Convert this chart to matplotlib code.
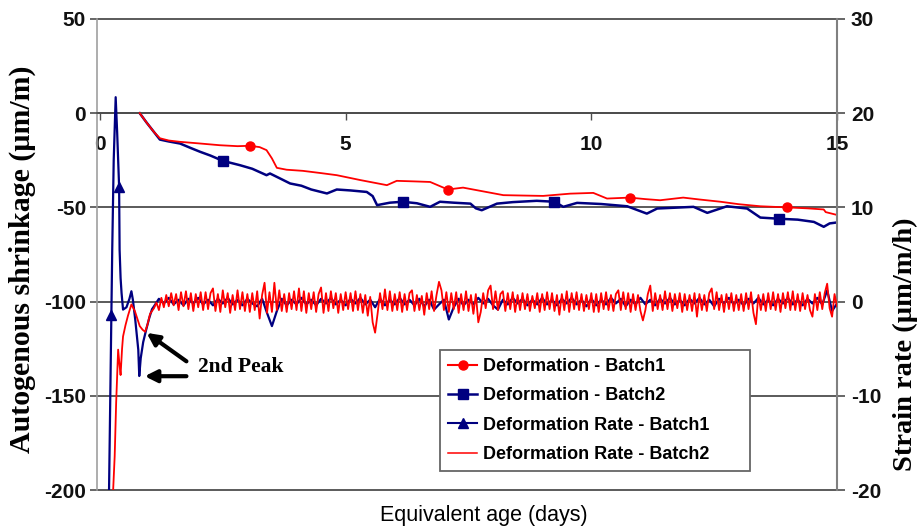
import numpy as np
import matplotlib
matplotlib.use("Agg")
import matplotlib.pyplot as plt
from matplotlib.lines import Line2D

plt.rcParams["axes.unicode_minus"] = False

# ---------------- data ----------------
# Deformation (left axis, um/m)
def1_x = [0.81, 0.95, 1.10, 1.22, 1.40, 1.63, 2.00, 2.44, 2.80, 3.05, 3.25, 3.39, 3.50, 3.60,
          3.80, 4.13, 4.50, 4.82, 5.30, 5.84, 6.04, 6.40, 6.72, 6.90, 7.08, 7.39, 7.80, 8.21,
          8.60, 9.02, 9.57, 10.04, 10.32, 10.78, 11.10, 11.40, 11.87, 12.20, 12.63, 13.00,
          13.44, 13.99, 14.40, 14.73, 14.77, 15.00]
def1_y = [0, -5, -10, -13.3, -14.5, -15.2, -16.0, -17.0, -17.5, -17.3, -18.0, -19.6, -24, -29,
          -30, -30.6, -31.8, -32.9, -35.5, -38.2, -35.9, -36.2, -36.5, -38.5, -40.5, -39.5,
          -41.5, -43.5, -43.7, -43.9, -42.7, -42.3, -45.3, -44.8, -45.6, -46.2, -44.8, -45.8,
          -47.0, -48.3, -49.4, -50.0, -50.5, -51.1, -52.5, -54.0]
def1_marks = [9, 24, 33, 41]

def2_x = [0.81, 0.95, 1.10, 1.22, 1.40, 1.63, 1.85, 2.04, 2.25, 2.50, 2.85, 3.10, 3.39, 3.46,
          3.67, 3.87, 4.10, 4.30, 4.62, 4.82, 5.10, 5.43, 5.55, 5.64, 5.90, 6.16, 6.45, 6.72,
          6.92, 7.20, 7.54, 7.65, 7.77, 8.08, 8.40, 8.89, 9.25, 9.43, 9.71, 10.20, 10.73,
          11.13, 11.34, 12.08, 12.36, 12.76, 13.17, 13.44, 13.81, 14.20, 14.53, 14.73, 14.85,
          15.00]
def2_y = [0, -5, -10, -14, -15, -16.1, -18.5, -20.5, -22.5, -25.3, -27.6, -29.5, -32.9, -32.0,
          -34.7, -37.3, -38.5, -40.5, -42.6, -40.5, -41.0, -41.8, -44, -48.8, -47.5, -47.0,
          -47.8, -49.7, -47.0, -47.5, -48.0, -50.5, -51.5, -48.0, -47.2, -46.5, -47.0, -49.7,
          -47.6, -48.2, -49.4, -53.3, -50.6, -49.7, -52.9, -49.4, -50.6, -55.4, -56.0, -56.5,
          -57.7, -60.3, -58.5, -58.0]
def2_marks = [9, 25, 36, 48]

# Deformation rate Batch1 (right axis, um/m/h): early transient + readings every 0.1 day
rate1_early_x = [0.18, 0.21, 0.23, 0.25, 0.28, 0.32, 0.35, 0.39, 0.40, 0.42, 0.44, 0.47, 0.54,
                 0.60, 0.64, 0.67, 0.72, 0.78, 0.80, 0.83, 0.88, 0.94, 1.00, 1.06]
rate1_early_y = [-22, -10, -1.4, 5.5, 15, 21.7, 18, 12.2, 5.5, 2.5, 0.9, -0.85, -0.6, 0.3, 1.1,
                 0.2, -2.0, -5.1, -7.9, -6.0, -4.3, -3.0, -1.8, -0.8]
rate1_marks = [2, 7]
rate1_start, rate1_step = 1.1, 0.1
rate1_vals = [
    -0.5, 0.3, -0.2, 0.4, -0.3, 0.2, -0.4, 0.3, -0.2, 0.4,
    -0.3, 0.2, -0.4, 0.3, -0.2, 0.4, -0.3, 0.2, -0.4, 0.3,
    -0.2, -0.5, 0.3, -1.2, -2.6, -1.0, 0.3, -0.4, 0.2, -0.3,
    0.4, -0.3, 0.2, -0.4, 0.3, -0.2, 0.4, -0.3, 0.2, -0.4,
    0.3, -0.2, 0.4, -0.3, 0.2, -0.6, 0.3, -0.4, 0.2, -0.3,
    0.4, -0.3, 0.2, -0.4, 0.3, -0.5, 0.2, -0.85, -0.3, 0.2,
    -1.9, -0.6, 0.3, -0.4, 0.2, -0.3, 0.4, -0.2, 0.3, -0.4,
    -0.85, 0.2, -0.3, 0.4, -0.2, 0.3, -0.4, 0.2, -0.3, 0.4,
    -0.3, 0.2, -0.4, 0.3, -0.2, 0.4, -0.3, 0.2, -0.5, 0.3,
    -0.4, 0.2, -0.3, 0.4, -0.2, 0.3, -0.5, 0.2, -0.3, 0.4,
    -0.3, 0.2, -0.4, 0.3, -0.2, 0.4, -0.3, 0.2, -0.4, 0.3,
    -0.2, 0.4, -0.3, 0.2, -0.5, 0.3, -0.2, 0.4, -0.3, 0.2,
    -0.4, 0.3, -0.2, 0.4, -0.3, 0.2, -0.4, 0.3, -0.2, 0.4,
    -0.3, 0.2, -0.4, 0.3, -0.2, 0.4, -0.3, 1.2, -1.0, -0.2]

# Deformation rate Batch2 (right axis): early transient + readings every 0.05 day
rate2_early_x = [0.26, 0.30, 0.33, 0.35, 0.37, 0.40, 0.42, 0.45, 0.47, 0.52, 0.57, 0.64, 0.71,
                 0.76, 0.81, 0.87, 0.92, 0.97, 1.02]
rate2_early_y = [-21, -16.4, -10.7, -8.0, -5.1, -6.8, -7.8, -5.0, -3.7, -2.5, -1.5, -0.3, -1.0,
                 -1.8, -2.6, -3.0, -3.2, -2.4, -1.3]
rate2_start, rate2_step = 1.1, 0.05
rate2_vals = [
    -0.7, -0.1, -0.9, 0.4, -0.6, 0.7, -0.5, 0.9, -0.4, 0.8, -0.9, 1.0, -0.5, 1.1, -0.8, 0.9, -1.0, 0.8, -0.6, 1.0,
    -0.9, 1.0, -0.8, 0.9, 1.4, -1.0, 0.8, -1.1, 1.2, -0.6, 0.9, -1.2, 0.7, -0.9, 1.2, -0.8, 1.0, -1.0, 0.8, -1.1,
    0.9, -0.9, 1.1, -1.8, 0.7, 2.0, -1.2, 1.0, -1.1, 2.0, -0.9, 1.2, -1.0, 0.8, -1.1, 0.9, -0.8, 1.1, -0.9, 1.4,
    -1.0, 1.1, -1.2, 0.9, -0.8, 1.0, -1.1, 0.8, 1.5, -1.2, 0.9, -1.0, 1.1, -0.7, 0.9, -1.2, 0.8, -0.9, 1.0, -0.8,
    0.9, -1.0, 1.1, -0.9, 0.8, -1.2, 0.7, -1.5, 0.5, -2.2, -3.3, -1.3, 0.9, -0.8, 1.3, -0.9, 1.1, -1.0, 0.8, -0.9,
    1.0, -1.1, 0.8, -0.9, 0.9, 1.2, -1.0, 0.7, -0.9, 0.6, -1.4, 0.9, -0.8, 1.1, -1.0, 0.7, 2.1, 1.2, -0.9, 1.0,
    -1.1, 0.9, -0.8, 1.0, -1.2, 0.8, -0.9, 1.1, -1.0, 0.7, -1.3, 0.8, -2.2, -1.1, 0.9, -0.7, 1.2, 1.7, -0.8, 1.1,
    -0.9, 0.8, 1.1, -1.0, 0.9, -0.8, 1.0, -1.1, 0.7, -0.9, 0.9, -0.8, 0.8, -1.0, 0.6, -0.7, 0.9, -1.1, 0.8, -0.9,
    1.0, -0.8, 0.9, -1.0, 0.7, -1.4, 0.8, -0.9, 1.1, -1.1, 0.9, -0.8, 1.0, -0.9, 0.8, -1.0, 0.7, -0.8, 0.9, -1.1,
    0.8, -1.1, 0.9, -0.8, 1.0, -0.9, 0.7, -1.0, 0.8, 1.2, -0.9, 1.0, -0.8, 0.9, -1.1, 0.8, -0.9, 0.7, -1.0, -2.0,
    -0.9, 0.8, 1.7, -1.0, 0.9, -0.8, 0.7, -0.9, 1.1, -0.8, 0.9, -1.0, 0.8, -0.7, 0.9, -1.1, 0.8, -0.9, 0.7, -1.0,
    0.9, -1.6, 0.8, -0.9, 0.7, -1.0, 0.9, 1.4, -0.8, 1.0, -0.9, 0.7, -1.1, 0.8, -0.8, 0.9, -1.0, 0.7, -0.9, 0.8,
    -1.0, 0.9, -0.8, 1.0, -1.2, -2.4, 0.7, -0.9, 0.8, -1.0, 0.9, -0.8, 1.0, -0.9, 0.8, -1.1, 0.9, -0.7, 1.0, -0.9,
    1.1, -0.9, 0.8, -1.0, 0.9, -0.8, 0.7, -0.9, -1.6, 0.8, -0.9, 1.0, -0.8, 0.9, 1.9, -0.7, -1.6, 0.8, -0.5]

left_ticks = [-200, -150, -100, -50, 0, 50]
right_ticks = [-20, -10, 0, 10, 20, 30]
x_ticks = [0, 5, 10, 15]

labels = ["Deformation - Batch1", "Deformation - Batch2",
          "Deformation Rate - Batch1", "Deformation Rate - Batch2"]

# ---------------- build series ----------------
rate1_x = rate1_early_x + list(rate1_start + rate1_step * np.arange(len(rate1_vals)))
rate1_y = rate1_early_y + rate1_vals
rate2_x = rate2_early_x + list(rate2_start + rate2_step * np.arange(len(rate2_vals)))
rate2_y = rate2_early_y + rate2_vals

RED = "#ff0000"
NAVY = "#000080"
GRID = "#4d4d4d"
SANS = "Liberation Sans"
SERIF = "Liberation Serif"

fig = plt.figure(figsize=(9.17, 5.30), dpi=100)
ax = fig.add_axes([97 / 917, 40 / 530, 740 / 917, 471 / 530])
ax2 = ax.twinx()

ax.set_xlim(-0.06, 15.0)
ax.set_ylim(-200, 50)
ax2.set_ylim(-20, 30)

ax.set_zorder(1)
ax2.set_zorder(2)
ax.patch.set_visible(False)

# horizontal grid
for v in left_ticks:
    ax.axhline(v, color=GRID, lw=1.3, zorder=0.5, clip_on=False)

ax.plot(def1_x, def1_y, color=RED, lw=1.3, marker="o", ms=6.5,
        markevery=def1_marks, zorder=3)
ax.plot(def2_x, def2_y, color=NAVY, lw=1.8, marker="s", ms=6.5,
        markevery=def2_marks, zorder=2)

ax2.plot(rate1_x, rate1_y, color=NAVY, lw=1.6, marker="^", ms=7,
         markevery=rate1_marks, zorder=2)
ax2.plot(rate2_x, rate2_y, color=RED, lw=1.3, zorder=3)

# spines
ax.spines["top"].set_visible(False)
ax2.spines["top"].set_visible(False)
ax.spines["bottom"].set_position(("data", 0))
ax.spines["bottom"].set_color(GRID)
ax.spines["bottom"].set_linewidth(1.3)
ax.spines["left"].set_color("#a0a0a0")
ax.spines["left"].set_linewidth(1.2)
ax2.spines["left"].set_visible(False)
ax2.spines["bottom"].set_visible(False)
ax2.spines["right"].set_color("#808080")
ax2.spines["right"].set_linewidth(1.5)
ax.spines["right"].set_visible(False)

ax.set_yticks(left_ticks)
ax2.set_yticks(right_ticks)
ax.set_xticks(x_ticks)
ax.set_xticklabels([str(t) for t in x_ticks])
ax.xaxis.set_ticks_position("bottom")
ax.tick_params(axis="x", direction="out", length=5, width=1, color=GRID, pad=11)
ax.tick_params(axis="y", direction="out", length=5, width=1.2, color=GRID, pad=3)
ax2.tick_params(axis="y", direction="out", length=6, width=1.2, color=GRID, pad=4)

for lab in ax.get_xticklabels() + ax.get_yticklabels() + ax2.get_yticklabels():
    lab.set_fontfamily(SANS)
    lab.set_fontweight("bold")
    lab.set_fontsize(15)
    lab.set_color("#111111")

# axis labels
fig.text(22 / 917, 1 - 259 / 530, "Autogenous shrinkage (\u00b5m/m)", rotation=90,
         ha="center", va="center", fontsize=21.5, fontweight="bold", family=SERIF)
fig.text(905 / 917, 1 - 344 / 530, "Strain rate (\u00b5m/m/h)", rotation=90,
         ha="center", va="center", fontsize=20.5, fontweight="bold", family=SERIF)
fig.text(484 / 917, 1 - 515 / 530, "Equivalent age (days)", ha="center", va="center",
         fontsize=15.5, family=SANS)

# annotation
ax.annotate("", xy=(0.95, -116.6), xytext=(1.76, -131.7),
            arrowprops=dict(arrowstyle="-|>", color="black", lw=3, mutation_scale=18,
                            shrinkA=0, shrinkB=0), zorder=6)
ax.annotate("", xy=(0.91, -139.6), xytext=(1.76, -139.6),
            arrowprops=dict(arrowstyle="-|>", color="black", lw=3, mutation_scale=18,
                            shrinkA=0, shrinkB=0), zorder=6)
ax.text(1.99, -134.8, "2nd Peak", ha="left", va="center", fontsize=15.5,
        fontweight="bold", family=SERIF, zorder=6)

# legend
handles = [
    Line2D([], [], color=RED, lw=1.5, marker="o", ms=6.5),
    Line2D([], [], color=NAVY, lw=1.8, marker="s", ms=6.5),
    Line2D([], [], color=NAVY, lw=1.5, marker="^", ms=7),
    Line2D([], [], color=RED, lw=1.1),
]
x0 = (440 - 97) / 740
x1 = (750 - 97) / 740
y1 = (490 - 350) / 471
y0 = (490 - 468) / 471
leg = ax2.legend(handles, labels, loc="upper left", mode="expand",
                 bbox_to_anchor=(x0, y0, x1 - x0, y1 - y0),
                 prop=dict(family=SANS, weight="bold", size=13),
                 frameon=True, fancybox=False, framealpha=1, edgecolor="#666666",
                 handlelength=1.6, handletextpad=0.35, labelspacing=0.68,
                 borderpad=0.45, borderaxespad=0, numpoints=1)
leg.get_frame().set_linewidth(1.3)
leg.set_zorder(10)

fig.savefig("out.png", dpi=100)
